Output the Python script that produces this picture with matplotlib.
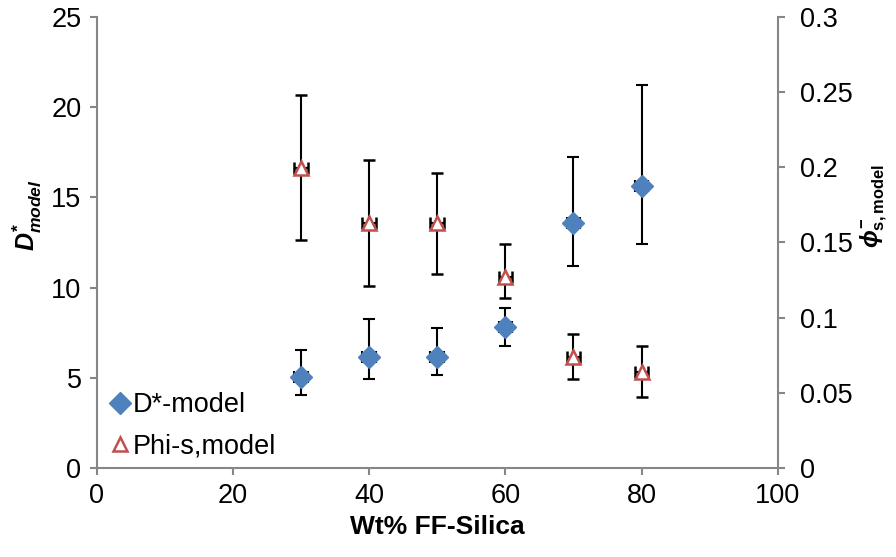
import numpy as np
import matplotlib.pyplot as plt
from matplotlib.lines import Line2D

plt.rcParams['font.family'] = ['Liberation Sans', 'DejaVu Sans']
plt.rcParams['mathtext.fontset'] = 'custom'
plt.rcParams['mathtext.it'] = 'Liberation Sans:bold:italic'
plt.rcParams['mathtext.rm'] = 'Liberation Sans:bold'
plt.rcParams['mathtext.bf'] = 'Liberation Sans:bold'

# data
wt = [30, 40, 50, 60, 70, 80]
d_model = [5.04, 6.15, 6.15, 7.82, 13.58, 15.63]
d_up = [6.54, 8.26, 7.76, 8.87, 17.24, 21.23]
d_lo = [4.05, 4.93, 5.16, 6.76, 11.2, 12.42]
phi_model = [0.1996, 0.163, 0.163, 0.127, 0.0739, 0.0639]
phi_up = [0.248, 0.205, 0.196, 0.149, 0.089, 0.081]
phi_lo = [0.1517, 0.121, 0.129, 0.113, 0.059, 0.047]
x_err = 1.0

blue = '#4F81BD'
red = '#C0504D'
grey = '#868686'

fig = plt.figure(figsize=(8.96, 5.57), dpi=100)
ax = fig.add_axes([0.108, 0.16, 0.76, 0.8095])
ax2 = ax.twinx()

d = np.array(d_model)
ax.errorbar(wt, d, yerr=[d - np.array(d_lo), np.array(d_up) - d], xerr=x_err,
            fmt='D', color=blue, markersize=11, ecolor='black', elinewidth=1.5,
            capsize=4.5, capthick=1.5, zorder=3)

p = np.array(phi_model)
ax2.errorbar(wt, p, yerr=[p - np.array(phi_lo), np.array(phi_up) - p], xerr=x_err,
             fmt='^', markerfacecolor='white', markeredgecolor=red, markeredgewidth=1.8,
             markersize=10, ecolor='black', elinewidth=1.5, capsize=4.5, capthick=1.5,
             zorder=3)

ax.set_xlim(0, 100)
ax.set_ylim(0, 25)
ax2.set_ylim(0, 0.3)
ax.set_xticks([0, 20, 40, 60, 80, 100])
ax.set_yticks([0, 5, 10, 15, 20, 25])
ax2.set_yticks([0, 0.05, 0.1, 0.15, 0.2, 0.25, 0.3])
ax2.set_yticklabels(['0', '0.05', '0.1', '0.15', '0.2', '0.25', '0.3'])

for a in (ax, ax2):
    a.spines['top'].set_visible(False)
    for s in ('left', 'right', 'bottom'):
        a.spines[s].set_color(grey)
        a.spines[s].set_linewidth(1.5)
    a.tick_params(direction='out', length=5, width=1.5, color=grey, labelsize=19.5)
ax.spines['right'].set_visible(False)
ax2.spines['left'].set_visible(False)
ax2.spines['bottom'].set_visible(False)
ax2.tick_params(axis='y', pad=11)
ax.tick_params(axis='y', pad=6)
ax.tick_params(axis='x', pad=6)

ax.set_xlabel('Wt% FF-Silica', fontsize=19, fontweight='bold', labelpad=4)
ax.set_ylabel(r'$D^{*}_{model}$', fontsize=18)
ax.yaxis.set_label_coords(-0.078, 0.56)
ax2.set_ylabel(r'$\phi^{-}_{\mathrm{s,model}}$', fontsize=17)
ax2.yaxis.set_label_coords(1.118, 0.58)

handles = [Line2D([], [], marker='D', color=blue, linestyle='none', markersize=11),
           Line2D([], [], marker='^', markerfacecolor='white', markeredgecolor=red,
                  markeredgewidth=1.8, linestyle='none', markersize=10)]
ax2.legend(handles, ['D*-model', 'Phi-s,model'], loc='lower left',
           bbox_to_anchor=(-0.015, -0.035), frameon=False, fontsize=19.5,
           handlelength=0.7, handletextpad=0.1, labelspacing=0.55)

fig.savefig('out.png', dpi=100)
